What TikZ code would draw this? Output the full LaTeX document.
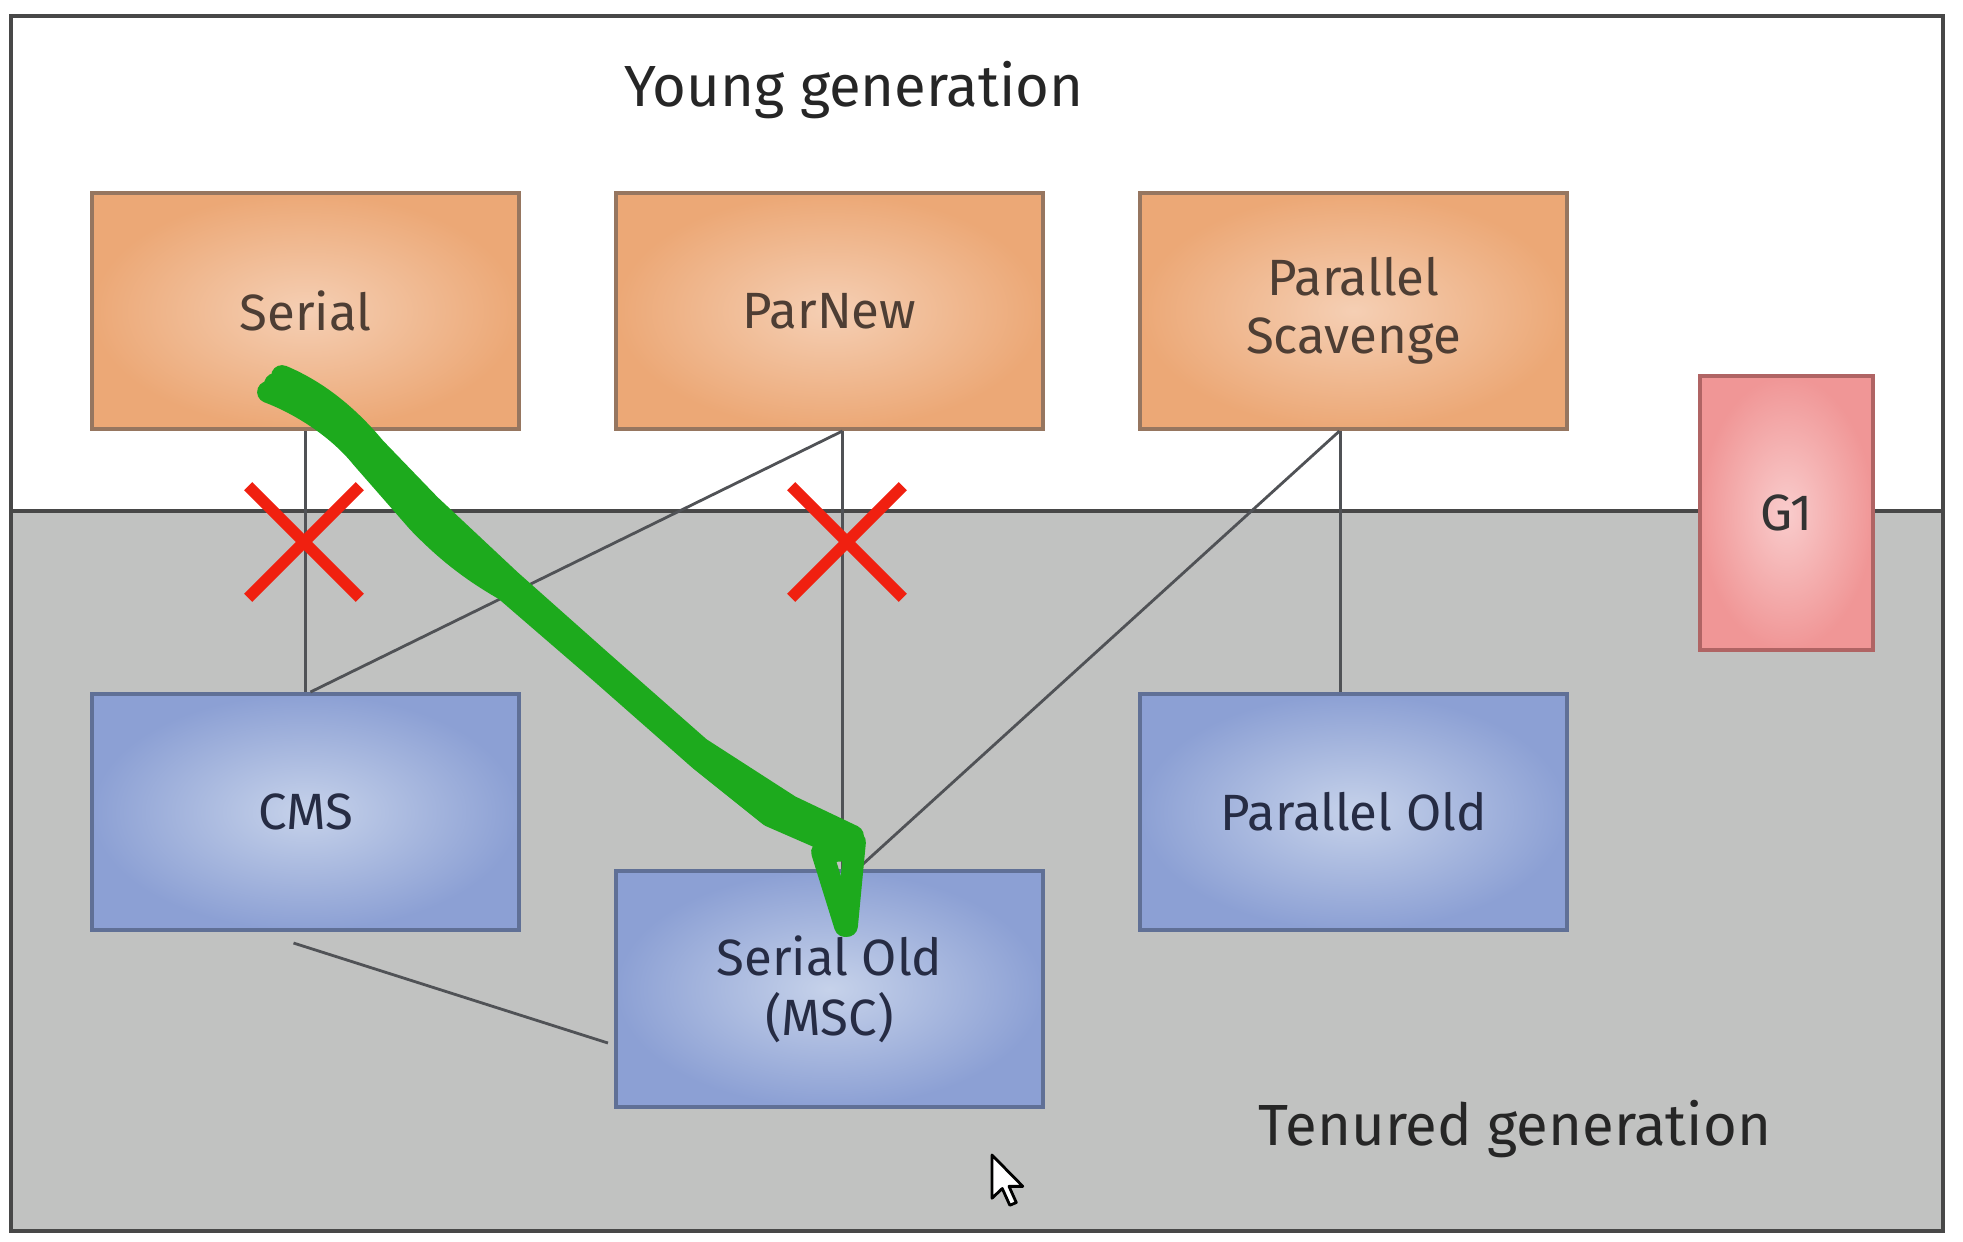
\documentclass[tikz,border=0pt]{standalone}
\usepackage{fontspec}
\setmainfont{Fira Sans}
\usetikzlibrary{calc,shapes.misc}

\definecolor{youngfill}{RGB}{236,168,118}
\definecolor{younginner}{RGB}{245,207,180}
\definecolor{youngedge}{RGB}{150,118,96}
\definecolor{youngtext}{RGB}{78,62,52}
\definecolor{oldfill}{RGB}{140,160,212}
\definecolor{oldinner}{RGB}{198,210,234}
\definecolor{oldedge}{RGB}{96,112,150}
\definecolor{oldtext}{RGB}{38,44,68}
\definecolor{gonefill}{RGB}{240,150,150}
\definecolor{goneinner}{RGB}{249,204,204}
\definecolor{goneedge}{RGB}{176,100,100}
\definecolor{tenured}{RGB}{193,194,193}
\definecolor{frameline}{RGB}{72,72,72}
\definecolor{linkline}{RGB}{80,82,86}
\definecolor{nogo}{RGB}{240,32,16}
\definecolor{pen}{RGB}{29,170,29}

\begin{document}
\begin{tikzpicture}[x=0.01cm,y=-0.01cm,
    gcbox/.style={draw, line width=1.1pt, rectangle, minimum width=4.27cm, minimum height=2.36cm,
      inner sep=0pt, align=center, font=\fontsize{14.5}{16.5}\selectfont},
    youngbox/.style={gcbox, draw=youngedge, inner color=younginner, outer color=youngfill, text=youngtext},
    oldbox/.style={gcbox, draw=oldedge, inner color=oldinner, outer color=oldfill, text=oldtext},
    g1box/.style={gcbox, draw=goneedge, inner color=goneinner, outer color=gonefill, text=black!80,
      minimum width=1.73cm, minimum height=2.74cm},
    link/.style={draw=linkline, line width=0.8pt},
    crossx/.style={cross out, draw=nogo, line width=3.3pt, minimum size=1.0cm, inner sep=0pt},
    scribble/.style={draw=pen, line width=6.2pt, line cap=round, line join=round},
    genlabel/.style={font=\fontsize{16.5}{20}\selectfont, text=black!85}]
    \useasboundingbox (0,0) rectangle (1963,1241);

    \fill[tenured] (11,511) rectangle (1943,1231);
    \draw[frameline, line width=1.1pt] (11,16) rectangle (1943,1231);
    \draw[frameline, line width=1.4pt] (11,511) -- (1943,511);

    \node[genlabel] (younglbl) at (854,90) {Young generation};
    \node[genlabel] (tenuredlbl) at (1515,1129) {Tenured generation};

    \node[youngbox] (serial) at (305.5,311) {Serial};
    \node[youngbox] (parnew) at (829.5,311) {ParNew};
    \node[youngbox] (scavenge) at (1353.5,311) {Parallel\\Scavenge};
    \node[oldbox] (cms) at (305.5,812) {CMS};
    \node[oldbox, font=\fontsize{14.5}{17}\selectfont] (serialold) at (829.5,989) {Serial Old\\(MSC)};
    \node[oldbox] (parold) at (1353.5,812) {Parallel Old};
    \node[g1box] (g1) at (1786.5,513) {G1};

    \draw[link] (serial) -- (cms);
    \draw[link] ($(parnew.south)+(13,0)$) -- ($(cms.north)+(5,0)$);
    \draw[link] ($(parnew.south)+(13,0)$) -- ($(serialold.north)+(13,0)$);
    \draw[link] ($(scavenge.south)+(-14,0)$) -- ($(serialold.north)+(28,0)$);
    \draw[link] ($(scavenge.south)+(-13,0)$) -- ($(parold.north)+(-13,0)$);
    \draw[link] ($(cms.south)+(-12,11)$) -- ($(serialold.west)+(-6,54)$);

    \node[crossx] (nocms) at (304,542) {};
    \node[crossx] (noold) at (847,542) {};

    % hand-drawn stroke
    \draw[scribble] (282,376) .. controls (320,392) and (350,418) .. (375,448) -- (430,505)
      -- (510,580) -- (600,660) -- (700,748) -- (790,806) -- (853,836);
    \draw[scribble] (268,392) .. controls (300,404) and (338,428) .. (362,458) -- (418,522)
      .. controls (445,550) and (470,570) .. (505,590) -- (600,672) -- (700,760)
      -- (770,816) -- (848,850) -- (822,852) -- (845,926);
    \draw[scribble] (275,384) -- (372,458) -- (470,552) -- (590,660) -- (720,770) -- (800,822);
    \draw[scribble] (855,842) -- (847,926);

    \begin{scope}[shift={(992,1155)}, scale=2.7]
      \filldraw[fill=white, draw=black, line width=0.8pt, line join=round]
        (0,0) -- (0,16) -- (3.8,12.4) -- (6.6,18.6) -- (9,17.6) -- (6.3,11.6) -- (11.4,11.6) -- cycle;
    \end{scope}
\end{tikzpicture}
\end{document}
